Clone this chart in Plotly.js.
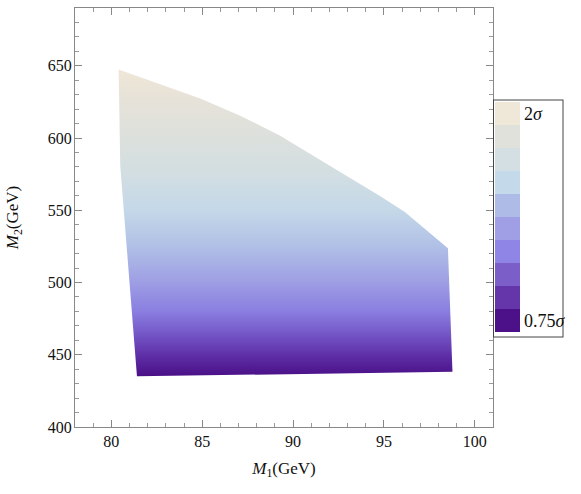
<!DOCTYPE html>
<html>
<head>
<meta charset="utf-8">
<script src="https://cdn.plot.ly/plotly-3.0.1.min.js"></script>
<style>html,body{margin:0;padding:0;background:#fff;}#chart{width:581px;height:494px;}</style>
</head>
<body>
<div id="chart"></div>
<script>
// Boundary of the allowed region (clockwise), M1 and M2 in GeV
var regionM1 = [80.40, 82.69, 84.89, 87.09, 89.29, 90.38, 92.97, 94.78, 96.15, 98.52, 98.77, 81.41, 80.49, 80.40];
var regionM2 = [647.4, 637.0, 627.3, 615.5, 601.6, 593.3, 573.8, 559.9, 548.8, 523.8, 438.2, 435.1, 580.8, 647.4];

// Significance legend levels (bottom -> top)
var sigLevels = [0.75, 0.875, 1.0, 1.125, 1.25, 1.375, 1.5, 1.625, 1.75, 1.875, 2.0];
var bandColors = ['#4C1088', '#6436A9', '#7B5EC7', '#8E85E7', '#A09FE6', '#AEBBE7', '#C4D9EA', '#D3DFE3', '#E1E1DB', '#EFE7D7'];
var legendTickVals = [0.8125, 1.9375];
var legendTickText = ['0.75<i>σ</i>', '2<i>σ</i>'];

// Gradient of the region fill versus M2
var gradM2 = [435, 450, 465, 480, 500, 525, 550, 575, 600, 625, 648];
var gradColors = ['#4A0F86', '#5F30A8', '#7558C8', '#8A7EE0', '#9E9EE4', '#B0C0E6', '#C4D8E8', '#D2DEE2', '#DCE0DC', '#E6E2D9', '#EFE6D6'];

var g0 = gradM2[0], g1 = gradM2[gradM2.length - 1];
var gradScale = gradM2.map(function (v, i) { return [(v - g0) / (g1 - g0), gradColors[i]]; });

var bandScale = [];
var n = bandColors.length;
for (var i = 0; i < n; i++) {
  bandScale.push([i / n, bandColors[i]]);
  bandScale.push([(i + 1) / n, bandColors[i]]);
}

var serif = 'Liberation Serif, Times New Roman, serif';

var region = {
  type: 'scatter', mode: 'lines',
  x: regionM1, y: regionM2,
  fill: 'toself',
  line: { width: 0, color: 'rgba(0,0,0,0)' },
  fillgradient: { type: 'vertical', colorscale: gradScale, start: g0, stop: g1 },
  hoverinfo: 'skip', showlegend: false
};

var legendTrace = {
  type: 'scatter', mode: 'markers',
  x: sigLevels.map(function () { return 70; }), y: sigLevels.map(function () { return 300; }),
  marker: {
    size: 0.1, opacity: 0,
    color: sigLevels, cmin: sigLevels[0], cmax: sigLevels[sigLevels.length - 1],
    colorscale: bandScale, showscale: true,
    colorbar: {
      x: 1.0024, xanchor: 'left', y: 0.5, yanchor: 'middle',
      len: 236, lenmode: 'pixels', thickness: 25, thicknessmode: 'pixels',
      outlinewidth: 0, borderwidth: 1, bordercolor: '#444',
      xpad: 1, ypad: 3, bgcolor: '#fff',
      tickmode: 'array', tickvals: legendTickVals, ticktext: legendTickText,
      ticks: '', ticklen: 0,
      tickfont: { family: serif, size: 18, color: '#111' }
    }
  },
  hoverinfo: 'skip', showlegend: false
};

var axisCommon = {
  showgrid: false, zeroline: false,
  showline: true, linecolor: '#888', linewidth: 1, mirror: 'allticks',
  ticks: 'inside', ticklen: 7, tickcolor: '#888', tickwidth: 1,
  tickfont: { family: serif, size: 16, color: '#111' },
  minor: { ticks: 'inside', ticklen: 4, tickcolor: '#999', tickwidth: 1, showgrid: false }
};

var layout = {
  width: 581, height: 494,
  margin: { l: 75, r: 88, t: 8, b: 67 },
  paper_bgcolor: '#fff', plot_bgcolor: '#fff',
  showlegend: false,
  xaxis: Object.assign({}, axisCommon, {
    range: [78, 101], tick0: 0, dtick: 5,
    minor: Object.assign({}, axisCommon.minor, { dtick: 1 }),
    title: { text: '<i>M</i><sub>1</sub>(GeV)', font: { family: serif, size: 17, color: '#111' }, standoff: 12 }
  }),
  yaxis: Object.assign({}, axisCommon, {
    range: [400, 690], tick0: 0, dtick: 50,
    ticklabelstandoff: -1,
    minor: Object.assign({}, axisCommon.minor, { dtick: 10 }),
    title: { text: '<i>M</i><sub>2</sub>(GeV)', font: { family: serif, size: 17, color: '#111' }, standoff: 24 }
  })
};

Plotly.newPlot('chart', [region, legendTrace], layout, { displayModeBar: false, staticPlot: true });
</script>
</body>
</html>
